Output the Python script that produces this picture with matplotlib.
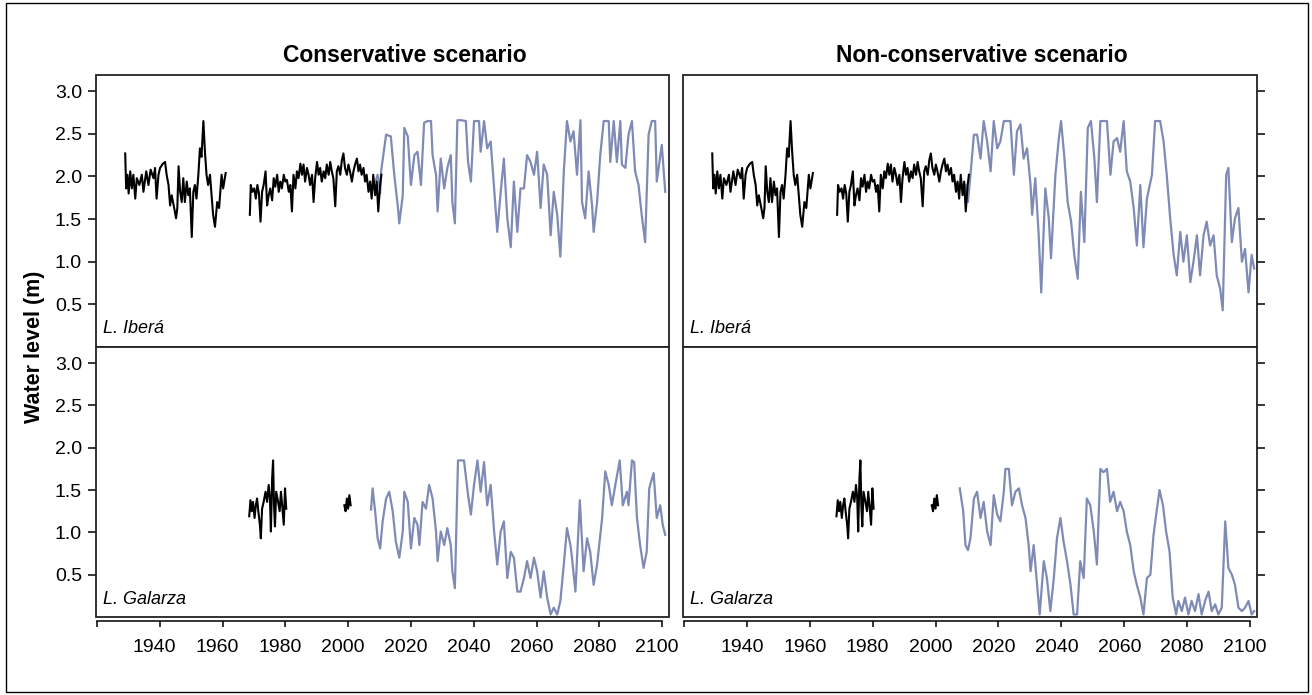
import matplotlib.pyplot as plt
from matplotlib.patches import Rectangle
from matplotlib.transforms import ScaledTranslation

plt.rcParams['font.family'] = ['Liberation Sans', 'DejaVu Sans']

nan = float('nan')

# observed levels (nan = gap in the record)
obs_ibera_years = [1929.0, 1929.3, 1929.7, 1930.1, 1930.6, 1931.1, 1931.6, 1932.2, 1932.7, 1933.5,
                   1934.3, 1934.8, 1935.7, 1936.4, 1937.1, 1938.0, 1938.5, 1939.0, 1939.6, 1940.1,
                   1941.0, 1941.7, 1942.2, 1942.8, 1943.3, 1943.8, 1944.6, 1945.2, 1945.6, 1946.0,
                   1946.5, 1947.0, 1947.5, 1948.0, 1948.6, 1949.1, 1949.6, 1950.2, 1950.7, 1951.2,
                   1951.7, 1952.3, 1952.8, 1953.3, 1953.9, 1954.4, 1954.9, 1955.4, 1956.0, 1956.5,
                   1957.0, 1957.6, 1958.3, 1958.9, 1959.7, 1960.2, 1961.0, nan,
                   1968.7, 1969.0, 1969.5, 1970.1, 1970.6, 1971.1, 1971.6, 1972.1, 1972.6, 1973.1,
                   1973.7, 1974.2, 1974.7, 1975.2, 1975.8, 1976.3, 1976.8, 1977.4, 1977.9, 1978.4,
                   1978.9, 1979.5, 1980.0, 1980.5, 1981.1, 1981.6, 1982.1, 1982.6, 1983.2, 1983.7,
                   1984.2, 1984.8, 1985.3, 1985.8, 1986.3, 1986.9, 1987.4, 1987.9, 1988.5, 1989.0,
                   1989.5, 1990.1, 1990.6, 1991.1, 1991.6, 1992.2, 1992.7, 1993.2, 1993.8, 1994.3,
                   1994.8, 1995.3, 1995.9, 1996.4, 1996.9, 1997.5, 1998.0, 1998.5, 1999.0, 1999.6,
                   2000.1, 2000.6, 2001.2, 2001.7, 2002.2, 2002.8, 2003.3, 2003.8, 2004.3, 2004.9,
                   2005.4, 2005.9, 2006.5, 2007.0, 2007.5, 2008.0, 2008.6, 2009.1, 2009.6, 2010.2,
                   2010.6]
obs_ibera_level = [2.27, 1.86, 2.02, 1.80, 2.06, 1.86, 2.02, 1.74, 1.98, 1.90,
                   2.02, 1.82, 2.06, 1.90, 2.08, 1.98, 2.10, 1.74, 2.02, 2.10,
                   2.15, 2.17, 2.02, 1.90, 1.66, 1.78, 1.63, 1.51, 1.63, 2.12,
                   1.82, 1.70, 1.98, 1.70, 1.94, 1.78, 1.86, 1.29, 1.82, 1.90,
                   1.74, 2.02, 2.33, 2.23, 2.65, 2.29, 2.02, 1.90, 2.02, 1.78,
                   1.55, 1.41, 1.70, 1.63, 2.02, 1.86, 2.04, nan,
                   1.55, 1.90, 1.82, 1.86, 1.74, 1.90, 1.80, 1.47, 1.82, 1.90,
                   2.06, 1.66, 1.78, 1.86, 1.72, 1.98, 1.88, 2.02, 1.82, 1.94,
                   1.86, 2.02, 1.94, 1.96, 1.82, 1.90, 1.59, 2.02, 1.86, 2.06,
                   1.98, 2.15, 2.02, 2.14, 1.94, 2.10, 2.02, 1.90, 2.02, 1.70,
                   1.98, 2.17, 2.02, 2.10, 1.94, 2.06, 1.98, 2.14, 2.02, 2.17,
                   2.06, 1.98, 1.65, 2.06, 2.12, 2.02, 2.19, 2.27, 2.10, 2.02,
                   2.14, 2.06, 1.94, 2.06, 2.14, 2.21, 2.06, 2.14, 2.02, 2.10,
                   1.94, 2.02, 1.82, 1.94, 1.74, 2.02, 1.78, 1.94, 1.59, 1.90,
                   2.02]

obs_galarza_years = [1968.5, 1968.9, 1969.3, 1969.7, 1970.2, 1970.6, 1971.0, 1971.4, 1971.9, 1972.2,
                     1972.6, 1973.1, 1973.7, 1974.2, 1974.7, 1975.1, 1975.4, 1975.8, 1976.1, 1976.4,
                     1976.7, 1977.1, 1977.7, 1978.2, 1978.6, 1979.0, 1979.5, 1979.9, 1980.3, nan,
                     1998.8, 1999.2, 1999.6, 2000.0, 2000.4, 2000.8]
obs_galarza_level = [1.19, 1.38, 1.25, 1.36, 1.17, 1.32, 1.40, 1.25, 1.09, 0.93,
                     1.28, 1.36, 1.48, 1.36, 1.56, 1.40, 1.01, 1.64, 1.85, 1.32,
                     1.07, 1.48, 1.36, 1.25, 1.48, 1.32, 1.09, 1.52, 1.28, nan,
                     1.32, 1.25, 1.40, 1.28, 1.44, 1.32]

# projected levels
cons_ibera_years = [2008.8, 2009.4, 2010.2, 2010.5, 2012.1, 2013.6, 2014.7, 2015.8, 2016.3, 2017.4,
                    2017.9, 2019.0, 2020.0, 2021.1, 2022.1, 2023.2, 2024.2, 2025.3, 2026.4, 2026.9,
                    2028.0, 2028.5, 2029.5, 2030.6, 2031.6, 2032.7, 2033.2, 2034.0, 2034.8, 2035.9,
                    2037.5, 2038.2, 2039.1, 2040.1, 2041.7, 2042.2, 2043.3, 2044.3, 2045.4, 2046.5,
                    2047.5, 2048.6, 2049.6, 2050.7, 2051.8, 2052.8, 2053.9, 2054.9, 2056.0, 2057.0,
                    2058.1, 2059.2, 2060.2, 2061.3, 2062.3, 2063.4, 2064.5, 2065.5, 2066.6, 2067.6,
                    2068.7, 2069.7, 2070.8, 2071.8, 2072.9, 2074.0, 2074.5, 2075.5, 2076.6, 2077.7,
                    2078.2, 2079.3, 2080.3, 2081.4, 2083.0, 2083.5, 2084.6, 2085.6, 2086.7, 2087.2,
                    2088.3, 2089.3, 2090.4, 2091.4, 2092.5, 2093.5, 2094.6, 2095.7, 2096.7, 2097.8,
                    2098.3, 2099.9, 2101.0]
cons_ibera_level = [1.95, 2.02, 1.80, 2.06, 2.49, 2.47, 2.02, 1.66, 1.45, 1.78,
                    2.57, 2.47, 1.90, 2.25, 2.29, 1.90, 2.63, 2.65, 2.65, 2.25,
                    2.02, 1.59, 2.21, 1.86, 2.10, 2.25, 1.70, 1.45, 2.66, 2.66,
                    2.65, 2.17, 1.94, 2.65, 2.65, 2.29, 2.65, 2.33, 2.41, 1.86,
                    1.35, 1.82, 2.21, 1.51, 1.17, 1.94, 1.35, 1.86, 1.86, 2.25,
                    2.17, 2.02, 2.29, 1.63, 2.14, 2.02, 1.31, 1.82, 1.55, 1.06,
                    2.06, 2.65, 2.41, 2.53, 2.02, 2.66, 1.70, 1.51, 2.06, 1.66,
                    1.35, 1.70, 2.25, 2.65, 2.65, 2.17, 2.65, 2.17, 2.65, 2.14,
                    2.10, 2.49, 2.65, 2.06, 1.90, 1.55, 1.23, 2.49, 2.65, 2.65,
                    1.94, 2.37, 1.82]

noncons_ibera_years = [2009.5, 2010.3, 2011.1, 2012.2, 2013.2, 2014.3, 2015.3, 2016.4, 2017.5, 2018.5,
                       2019.6, 2020.6, 2021.7, 2023.8, 2024.9, 2025.9, 2027.0, 2028.0, 2029.1, 2030.2,
                       2030.7, 2031.7, 2032.8, 2033.6, 2034.9, 2036.0, 2036.7, 2038.1, 2039.2, 2039.9,
                       2040.9, 2042.0, 2043.1, 2044.1, 2045.2, 2046.2, 2047.3, 2048.4, 2049.4, 2050.5,
                       2051.3, 2052.4, 2054.5, 2055.6, 2056.6, 2057.7, 2058.7, 2059.8, 2060.8, 2061.9,
                       2063.0, 2064.0, 2065.1, 2066.1, 2067.2, 2068.8, 2069.8, 2071.4, 2072.5, 2073.5,
                       2074.6, 2075.7, 2076.7, 2077.8, 2078.8, 2079.9, 2081.0, 2082.0, 2083.1, 2084.1,
                       2085.2, 2086.2, 2087.3, 2088.4, 2089.4, 2090.5, 2091.3, 2092.4, 2093.1, 2094.2,
                       2095.2, 2096.3, 2097.4, 2098.4, 2099.5, 2100.5, 2101.3]
noncons_ibera_level = [1.90, 1.70, 2.02, 2.49, 2.49, 2.21, 2.65, 2.41, 2.06, 2.65,
                       2.33, 2.41, 2.65, 2.65, 2.02, 2.53, 2.61, 2.21, 2.33, 1.90,
                       1.55, 1.98, 1.31, 0.64, 1.86, 1.51, 1.04, 2.02, 2.45, 2.65,
                       2.25, 1.70, 1.47, 1.08, 0.80, 1.82, 1.23, 2.57, 2.65, 2.21,
                       1.70, 2.65, 2.65, 2.02, 2.41, 2.45, 2.29, 2.65, 2.06, 1.94,
                       1.63, 1.19, 1.90, 1.17, 1.74, 2.02, 2.65, 2.65, 2.41, 2.02,
                       1.51, 1.08, 0.84, 1.35, 1.00, 1.31, 0.76, 1.00, 1.31, 0.84,
                       1.31, 1.47, 1.19, 1.31, 0.84, 0.68, 0.43, 2.02, 2.10, 1.23,
                       1.51, 1.63, 1.00, 1.15, 0.64, 1.08, 0.92]

cons_galarza_years = [2007.3, 2007.8, 2008.6, 2009.4, 2010.2, 2011.0, 2012.1, 2013.1, 2014.2, 2015.2,
                      2016.3, 2017.4, 2017.9, 2019.0, 2020.0, 2021.1, 2022.1, 2022.7, 2023.7, 2024.8,
                      2025.8, 2026.9, 2028.0, 2028.5, 2029.5, 2030.6, 2031.6, 2032.7, 2033.2, 2034.0,
                      2035.0, 2036.9, 2038.2, 2039.1, 2040.1, 2041.2, 2042.2, 2043.3, 2044.3, 2045.4,
                      2046.5, 2047.5, 2048.6, 2049.6, 2050.7, 2051.8, 2052.8, 2053.9, 2054.9, 2056.0,
                      2057.0, 2058.1, 2059.2, 2060.2, 2061.3, 2062.3, 2063.4, 2064.5, 2065.5, 2066.6,
                      2067.6, 2068.7, 2069.7, 2070.8, 2071.3, 2072.4, 2073.8, 2075.0, 2076.1, 2077.1,
                      2078.2, 2079.3, 2080.9, 2081.9, 2083.0, 2084.0, 2085.1, 2086.5, 2087.5, 2088.8,
                      2089.3, 2090.4, 2091.1, 2092.0, 2093.0, 2094.1, 2095.1, 2095.9, 2097.3, 2098.3,
                      2099.4, 2100.2, 2101.0]
cons_galarza_level = [1.27, 1.52, 1.25, 0.93, 0.81, 1.13, 1.40, 1.48, 1.25, 0.89,
                      0.70, 1.01, 1.48, 1.36, 0.81, 1.17, 1.09, 0.85, 1.36, 1.28,
                      1.56, 1.40, 1.01, 0.66, 1.01, 0.85, 1.05, 0.85, 0.54, 0.34,
                      1.85, 1.85, 1.44, 1.21, 1.56, 1.85, 1.48, 1.83, 1.32, 1.56,
                      1.01, 0.62, 1.01, 1.13, 0.46, 0.77, 0.70, 0.30, 0.30, 0.46,
                      0.66, 0.46, 0.70, 0.54, 0.23, 0.54, 0.23, 0.03, 0.11, 0.03,
                      0.19, 0.62, 1.05, 0.85, 0.70, 0.30, 1.38, 0.54, 0.93, 0.77,
                      0.38, 0.62, 1.17, 1.72, 1.56, 1.32, 1.56, 1.85, 1.32, 1.48,
                      1.32, 1.85, 1.83, 1.17, 0.85, 0.58, 0.77, 1.52, 1.70, 1.17,
                      1.32, 1.09, 0.97]

noncons_galarza_years = [2007.7, 2008.8, 2009.5, 2010.3, 2011.1, 2012.2, 2013.2, 2014.3, 2015.3, 2016.4,
                         2017.5, 2018.5, 2019.6, 2020.6, 2021.7, 2022.2, 2023.3, 2024.3, 2025.4, 2026.5,
                         2027.5, 2028.6, 2029.6, 2030.2, 2031.2, 2032.1, 2033.1, 2034.4, 2035.4, 2036.5,
                         2037.6, 2038.6, 2039.7, 2040.7, 2041.8, 2042.9, 2043.9, 2045.0, 2046.0, 2047.1,
                         2048.1, 2049.2, 2050.3, 2051.3, 2052.4, 2053.4, 2054.5, 2055.5, 2056.6, 2057.7,
                         2058.7, 2059.8, 2060.8, 2061.9, 2063.0, 2064.0, 2065.1, 2066.1, 2067.2, 2068.3,
                         2069.3, 2070.4, 2071.2, 2072.3, 2073.3, 2074.4, 2075.4, 2076.5, 2077.2, 2078.3,
                         2079.3, 2080.4, 2081.4, 2082.5, 2083.6, 2084.6, 2085.7, 2086.8, 2087.8, 2088.9,
                         2089.9, 2091.0, 2092.1, 2093.1, 2094.2, 2095.2, 2096.3, 2097.4, 2098.4, 2099.5,
                         2100.5, 2101.3]
noncons_galarza_level = [1.52, 1.25, 0.85, 0.79, 0.93, 1.40, 1.48, 1.17, 1.36, 1.01,
                         0.85, 1.44, 1.21, 1.13, 1.48, 1.75, 1.75, 1.32, 1.48, 1.52,
                         1.32, 1.17, 0.85, 0.54, 0.85, 0.46, 0.03, 0.66, 0.46, 0.07,
                         0.46, 0.93, 1.17, 0.89, 0.66, 0.38, 0.03, 0.03, 0.66, 0.46,
                         1.40, 1.32, 1.01, 0.62, 1.75, 1.71, 1.75, 1.36, 1.48, 1.25,
                         1.36, 1.25, 1.01, 0.85, 0.54, 0.38, 0.23, 0.03, 0.46, 0.50,
                         0.97, 1.28, 1.50, 1.32, 1.01, 0.77, 0.23, 0.03, 0.19, 0.07,
                         0.23, 0.03, 0.19, 0.07, 0.27, 0.03, 0.19, 0.30, 0.07, 0.15,
                         0.03, 0.11, 1.13, 0.58, 0.50, 0.38, 0.11, 0.07, 0.11, 0.19,
                         0.03, 0.07]

titles = ['Conservative scenario', 'Non-conservative scenario']
lakes = ['L. Iberá', 'L. Galarza']
yticks = [0.5, 1.0, 1.5, 2.0, 2.5, 3.0]
xticks = [1920, 1940, 1960, 1980, 2000, 2020, 2040, 2060, 2080, 2100]

obs_color = 'black'
proj_color = '#7f8bb5'

W, H = 1312, 695
fig = plt.figure(figsize=(W / 100, H / 100), dpi=100)
fig.patch.set_facecolor('white')


def add_panel(x0, y0, x1, y1):
    return fig.add_axes([x0 / W, 1 - y1 / H, (x1 - x0) / W, (y1 - y0) / H])


col_px = [(96, 669), (683, 1257)]
row_px = [(75, 347), (347, 617)]

panels = {
    (0, 0): (obs_ibera_years, obs_ibera_level, cons_ibera_years, cons_ibera_level),
    (0, 1): (obs_ibera_years, obs_ibera_level, noncons_ibera_years, noncons_ibera_level),
    (1, 0): (obs_galarza_years, obs_galarza_level, cons_galarza_years, cons_galarza_level),
    (1, 1): (obs_galarza_years, obs_galarza_level, noncons_galarza_years, noncons_galarza_level),
}

for (r, c), (oy, ol, py, pl) in panels.items():
    ax = add_panel(col_px[c][0], row_px[r][0], col_px[c][1], row_px[r][1])
    ax.plot(py, pl, color=proj_color, lw=1.6, zorder=2)
    ax.plot(oy, ol, color=obs_color, lw=1.5, zorder=3)
    ax.set_xlim(1919.7, 2102.2)
    ax.set_ylim(0, 3.19)

    for s in ['top', 'left', 'right']:
        ax.spines[s].set_visible(False)
    ax.add_patch(Rectangle((0, 0), 1, 1, transform=ax.transAxes, fill=False,
                           lw=1.3, edgecolor='#222222', clip_on=False, zorder=5))

    ax.set_yticks(yticks)
    if c == 0:
        ax.set_yticklabels(['%.1f' % v for v in yticks])
        ax.tick_params(axis='y', direction='out', length=6, width=1.1, labelsize=14, pad=4)
    else:
        ax.yaxis.tick_right()
        ax.tick_params(axis='y', direction='out', length=6, width=1.1, labelright=False)

    if r == 1:
        ax.spines['bottom'].set_position(('outward', 3))
        ax.spines['bottom'].set_bounds(1920, 2100)
        ax.spines['bottom'].set_linewidth(1.1)
        ax.set_xticks(xticks)
        ax.set_xticklabels([''] + [str(x) for x in xticks[1:]])
        ax.tick_params(axis='x', direction='out', length=4, width=1.1, labelsize=14, pad=9)
        # labels sit a little left of their ticks in the original
        shift = ScaledTranslation(-5 / 100, 0, fig.dpi_scale_trans)
        for lab in ax.get_xticklabels():
            lab.set_transform(lab.get_transform() + shift)
    else:
        ax.spines['bottom'].set_visible(False)
        ax.tick_params(axis='x', bottom=False, labelbottom=False)

    ax.text(0.012, 0.035, lakes[r], transform=ax.transAxes, ha='left', va='bottom',
            fontsize=13, fontstyle='italic')

    if r == 0:
        fig.text([405, 982][c] / W, 1 - 55 / H, titles[c], ha='center', va='center',
                 fontsize=16.5, fontweight='bold')

fig.text(35 / W, 1 - 347 / H, 'Water level (m)', rotation=90, ha='center', va='center',
         fontsize=15.5, fontweight='bold')

fig.add_artist(Rectangle((6 / W, 1 - 692 / H), 1302 / W, 689 / H, transform=fig.transFigure,
                         fill=False, lw=1.0, edgecolor='black'))

fig.savefig('out.png', dpi=100)
